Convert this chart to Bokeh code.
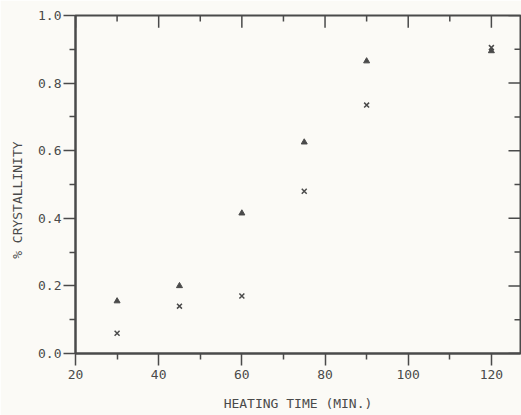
from bokeh.plotting import figure
from bokeh.models import FixedTicker, Range1d, PrintfTickFormatter
from bokeh.embed import file_html
from bokeh.resources import INLINE

heating_time = [30, 45, 60, 75, 90, 120]
series_triangle = [0.155, 0.20, 0.415, 0.625, 0.865, 0.895]
series_cross = [0.06, 0.14, 0.17, 0.48, 0.735, 0.905]
x_ticks = [20, 40, 60, 80, 100, 120]
x_minor = [30, 50, 70, 90, 110]
y_ticks = [0.0, 0.2, 0.4, 0.6, 0.8, 1.0]
y_minor = [0.1, 0.3, 0.5, 0.7, 0.9]
x_start, x_end = 20, 127.0
y_start, y_end = 0.0, 1.0

ink = "#4a4a4a"
paper = "#fbfaf6"
font = "DejaVu Sans Mono"

p = figure(width=521, height=415, output_backend="svg", toolbar_location=None,
           x_range=Range1d(x_start, x_end), y_range=Range1d(y_start, y_end),
           min_border_left=75, min_border_right=1, min_border_top=15, min_border_bottom=62)
p.background_fill_color = paper
p.border_fill_color = paper
p.outline_line_color = ink
p.outline_line_width = 2
p.grid.visible = False

for ax in [p.xaxis[0], p.yaxis[0]]:
    ax.axis_line_color = ink
    ax.axis_line_width = 2
    ax.major_tick_line_color = ink
    ax.minor_tick_line_color = ink
    ax.major_tick_line_width = 1.5
    ax.minor_tick_line_width = 1.5
    ax.major_tick_in = 0
    ax.major_tick_out = 12
    ax.minor_tick_in = 0
    ax.minor_tick_out = 6
    ax.major_label_text_font = font
    ax.major_label_text_font_size = "13px"
    ax.major_label_text_color = ink
    ax.axis_label_text_font = font
    ax.axis_label_text_font_size = "13px"
    ax.axis_label_text_color = ink
    ax.axis_label_text_font_style = "normal"

p.xaxis[0].ticker = FixedTicker(ticks=x_ticks, minor_ticks=x_minor)
p.yaxis[0].ticker = FixedTicker(ticks=y_ticks, minor_ticks=y_minor)
p.yaxis[0].formatter = PrintfTickFormatter(format="%.1f")
p.xaxis[0].axis_label = "HEATING TIME (MIN.)"
p.yaxis[0].axis_label = "% CRYSTALLINITY" + "\u00a0" * 4
p.xaxis[0].major_label_standoff = 4
p.yaxis[0].major_label_standoff = 2
p.yaxis[0].axis_label_standoff = 10
p.xaxis[0].axis_label_standoff = 14

# inward ticks on the top and right edges of the frame (lengths as fractions of the ranges)
ty_major = 0.036 * (y_end - y_start)
ty_minor = 0.018 * (y_end - y_start)
tx_major = 0.027 * (x_end - x_start)
tx_minor = 0.0135 * (x_end - x_start)
p.segment(x0=x_ticks, y0=[y_end] * len(x_ticks), x1=x_ticks,
          y1=[y_end - ty_major] * len(x_ticks), line_color=ink, line_width=1.5)
p.segment(x0=x_minor, y0=[y_end] * len(x_minor), x1=x_minor,
          y1=[y_end - ty_minor] * len(x_minor), line_color=ink, line_width=1.5)
p.segment(x0=[x_end] * len(y_ticks), y0=y_ticks, x1=[x_end - tx_major] * len(y_ticks),
          y1=y_ticks, line_color=ink, line_width=1.5)
p.segment(x0=[x_end] * len(y_minor), y0=y_minor, x1=[x_end - tx_minor] * len(y_minor),
          y1=y_minor, line_color=ink, line_width=1.5)

p.scatter(heating_time, series_triangle, marker="triangle", size=6,
          fill_color=ink, line_color=ink)
p.scatter(heating_time, series_cross, marker="x", size=7,
          line_color=ink, line_width=1.5)

open("out.html", "w").write(file_html(p, INLINE))
